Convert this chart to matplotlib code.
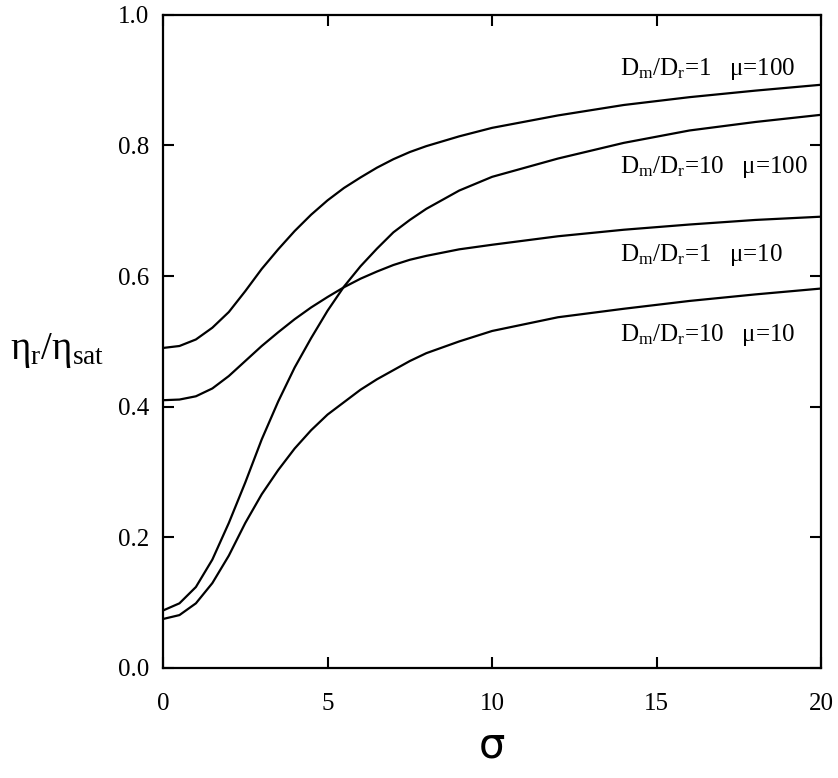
import matplotlib
matplotlib.use("Agg")
import matplotlib.pyplot as plt

plt.rcParams['font.family'] = ['Liberation Serif', 'DejaVu Serif']
plt.rcParams['mathtext.fontset'] = 'custom'
plt.rcParams['mathtext.rm'] = 'Liberation Serif'
plt.rcParams['mathtext.it'] = 'Liberation Serif:italic'

# values
sigma = [0, 0.5, 1, 1.5, 2, 2.5, 3, 3.5, 4, 4.5, 5, 5.5, 6, 6.5, 7, 7.5, 8,
         9, 10, 12, 14, 16, 18, 20]

eta_dm1_mu100 = [0.490, 0.493, 0.503, 0.521, 0.545, 0.577, 0.611, 0.641,
                 0.669, 0.694, 0.716, 0.735, 0.751, 0.766, 0.779, 0.790,
                 0.799, 0.814, 0.827, 0.846, 0.862, 0.874, 0.884, 0.893]
eta_dm10_mu100 = [0.088, 0.099, 0.124, 0.166, 0.222, 0.284, 0.350, 0.408,
                  0.460, 0.505, 0.547, 0.584, 0.615, 0.642, 0.667, 0.686,
                  0.703, 0.731, 0.752, 0.780, 0.804, 0.823, 0.836, 0.847]
eta_dm1_mu10 = [0.410, 0.411, 0.416, 0.428, 0.447, 0.470, 0.493, 0.514,
                0.534, 0.552, 0.568, 0.583, 0.596, 0.607, 0.617, 0.625,
                0.631, 0.641, 0.648, 0.661, 0.671, 0.679, 0.686, 0.691]
eta_dm10_mu10 = [0.075, 0.081, 0.099, 0.130, 0.172, 0.222, 0.266, 0.303,
                 0.336, 0.364, 0.388, 0.407, 0.426, 0.442, 0.456, 0.470,
                 0.482, 0.500, 0.516, 0.537, 0.550, 0.562, 0.572, 0.581]

labels = [r'$\mathrm{D_m/D_r}$=1   μ=100',
          r'$\mathrm{D_m/D_r}$=10   μ=100',
          r'$\mathrm{D_m/D_r}$=1   μ=10',
          r'$\mathrm{D_m/D_r}$=10   μ=10']
label_y = [0.917, 0.767, 0.632, 0.510]

fig = plt.figure(figsize=(8.38, 7.78), dpi=100)
ax = fig.add_axes([0.1945, 0.1414, 0.7855, 0.8395])

for ys in [eta_dm1_mu100, eta_dm10_mu100, eta_dm1_mu10, eta_dm10_mu10]:
    ax.plot(sigma, ys, color='black', lw=1.6)

for lab, yy in zip(labels, label_y):
    ax.text(13.9, yy, lab, fontsize=18, va='center', ha='left')

ax.set_xlim(0, 20)
ax.set_ylim(0, 1.0)
ax.set_xticks([0, 5, 10, 15, 20])
ax.set_yticks([0.0, 0.2, 0.4, 0.6, 0.8, 1.0])
ax.set_yticklabels(['0.0', '0.2', '0.4', '0.6', '0.8', '1.0'])
ax.tick_params(direction='in', length=8, width=1.5, labelsize=18,
               top=True, right=True, pad=10)
ax.tick_params(axis='x', pad=18)
for sp in ax.spines.values():
    sp.set_linewidth(1.6)

fig.text(0.012, 0.55, r'$\mathrm{\eta_r/\eta_{sat}}$', fontsize=28,
         ha='left', va='center')
fig.text(0.587, 0.042, 'σ', fontsize=30, ha='center', va='center',
         family=['DejaVu Sans'])

fig.savefig('out.png', dpi=100)
